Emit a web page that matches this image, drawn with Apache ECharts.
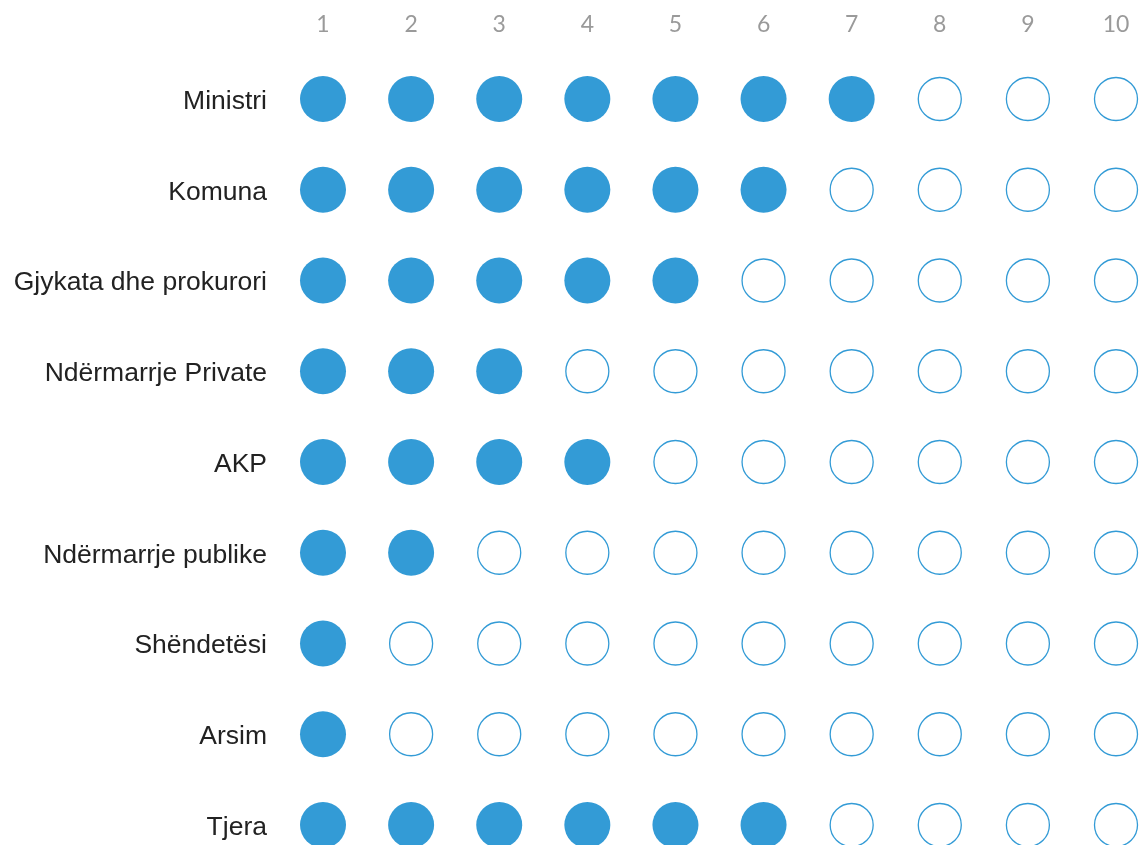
<!DOCTYPE html>
<html>
<head>
<meta charset="utf-8">
<script src="https://cdn.jsdelivr.net/npm/echarts@6/dist/echarts.min.js"></script>
<style>html,body{margin:0;padding:0;background:#fff}#c{width:1140px;height:845px}</style>
</head>
<body>
<div id="c"></div>
<script>
const categories = ["Ministri","Komuna","Gjykata dhe prokurori","Ndërmarrje Private","AKP","Ndërmarrje publike","Shëndetësi","Arsim","Tjera"];
const values = [7,6,5,3,4,2,1,1,6];
const columns = [1,2,3,4,5,6,7,8,9,10];

const filled = [], empty = [];
categories.forEach((c, r) => {
  columns.forEach(col => {
    (col <= values[r] ? filled : empty).push([col, r]);
  });
});

const chart = echarts.init(document.getElementById('c'), null, {renderer: 'canvas'});
chart.setOption({
  animation: false,
  backgroundColor: '#fff',
  grid: {left: 323, right: 24, top: 99, bottom: 20},
  xAxis: {
    type: 'value', position: 'top', min: 1, max: 10, interval: 1,
    axisLine: {show: false}, axisTick: {show: false}, splitLine: {show: false},
    axisLabel: {margin: 63, color: '#9a9a9a', fontSize: 23, fontFamily: 'Lato', fontWeight: 400,
      formatter: v => String(v)}
  },
  yAxis: {
    type: 'value', inverse: true, min: 0, max: categories.length - 1, interval: 1,
    axisLine: {show: false}, axisTick: {show: false}, splitLine: {show: false},
    axisLabel: {margin: 56, color: '#222', fontSize: 26.5, fontFamily: 'Liberation Sans',
      formatter: v => categories[v] ? '{a|' + categories[v] + '}' : '',
      rich: {a: {color: '#222', fontSize: 26.5, fontFamily: 'Liberation Sans', padding: [5, 0, 0, 0]}}}
  },
  series: [
    {type: 'scatter', data: empty, symbol: 'circle', symbolSize: 43, clip: false,
     itemStyle: {color: '#fff', borderColor: '#339bd6', borderWidth: 1.3, opacity: 1}},
    {type: 'scatter', data: filled, symbol: 'circle', symbolSize: 46, clip: false,
     itemStyle: {color: '#339bd6', opacity: 1}}
  ]
});
</script>
</body>
</html>
